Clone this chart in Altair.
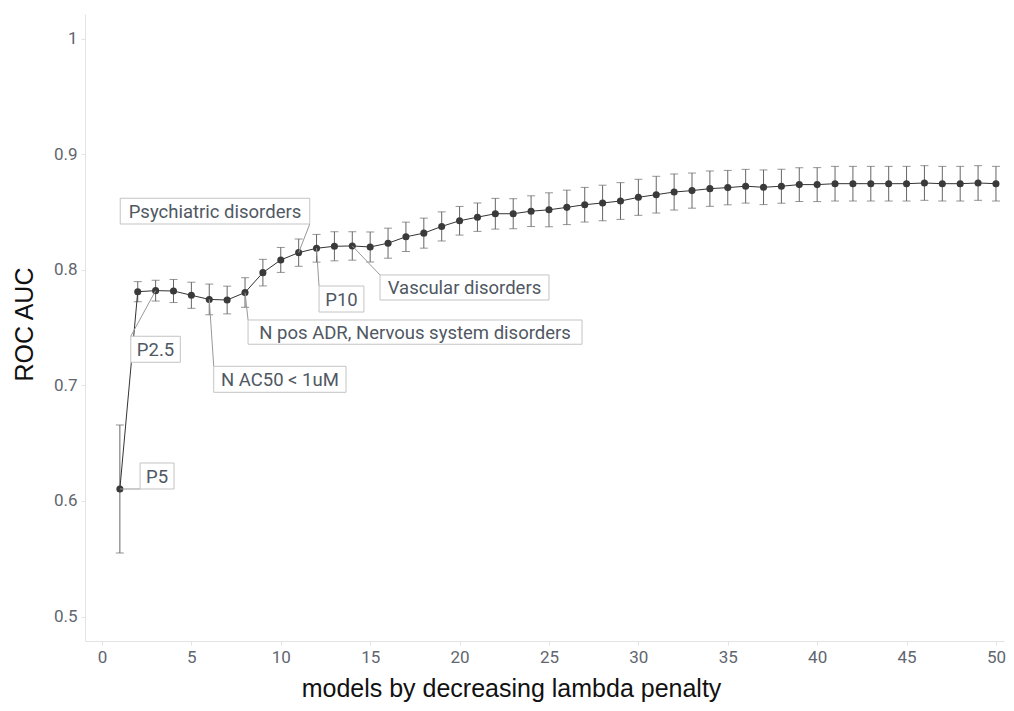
import altair as alt
import pandas as pd

# ---- data ----
model = list(range(1, 51))
auc = [0.6104, 0.7812, 0.7821, 0.7818, 0.7781, 0.7745, 0.7740, 0.7805, 0.7977, 0.8087,
       0.8150, 0.8188, 0.8205, 0.8208, 0.8199, 0.8232, 0.8287, 0.8319, 0.8377, 0.8426,
       0.8457, 0.8487, 0.8487, 0.8509, 0.8521, 0.8542, 0.8565, 0.8580, 0.8597, 0.8629,
       0.8652, 0.8675, 0.8687, 0.8704, 0.8713, 0.8725, 0.8716, 0.8725, 0.8739, 0.8739,
       0.8747, 0.8747, 0.8747, 0.8747, 0.8747, 0.8753, 0.8747, 0.8747, 0.8753, 0.8747]
err = [0.0554, 0.0087, 0.0090, 0.0100, 0.0113, 0.0133, 0.0120, 0.0128, 0.0115, 0.0108,
       0.0118, 0.0120, 0.0126, 0.0123, 0.0130, 0.0130, 0.0127, 0.0130, 0.0126, 0.0124,
       0.0123, 0.0133, 0.0130, 0.0133, 0.0147, 0.0149, 0.0150, 0.0154, 0.0159, 0.0156,
       0.0159, 0.0156, 0.0152, 0.0153, 0.0149, 0.0146, 0.0150, 0.0147, 0.0146, 0.0147,
       0.0150, 0.0150, 0.0150, 0.0150, 0.0150, 0.0150, 0.0150, 0.0150, 0.0150, 0.0150]

x_ticks = [0, 5, 10, 15, 20, 25, 30, 35, 40, 45, 50]
y_ticks = [0.5, 0.6, 0.7, 0.8, 0.9, 1.0]

# annotations: label, model index it points at, box extents (data units), leader corner
ann_text = ["P5", "P2.5", "N AC50 < 1uM", "N pos ADR, Nervous system disorders",
            "P10", "Vascular disorders", "Psychiatric disorders"]
ann_model = [1, 3, 6, 8, 12, 14, 11]
ann_left = [2.13, 1.61, 6.25, 8.17, 12.14, 15.55, 1.02]
ann_right = [4.03, 4.38, 13.65, 26.85, 14.65, 25.00, 11.62]
ann_top = [0.6329, 0.7426, 0.7166, 0.7567, 0.7861, 0.7957, 0.8621]
ann_bottom = [0.6104, 0.7201, 0.6941, 0.7357, 0.7636, 0.7740, 0.8398]
ann_corner = ["bl", "tl", "tl", "tl", "tl", "tl", "br"]

# ---- tables ----
df = pd.DataFrame({"model": model, "auc": auc, "err": err})
df["lo"] = df["auc"] - df["err"]
df["hi"] = df["auc"] + df["err"]
caps = pd.concat([
    pd.DataFrame({"model": model, "v": df["lo"]}),
    pd.DataFrame({"model": model, "v": df["hi"]}),
])

rows = []
for t, m, l, r, tp, bt, c in zip(ann_text, ann_model, ann_left, ann_right, ann_top, ann_bottom, ann_corner):
    lx = l if c[1] == "l" else r
    ly = tp if c[0] == "t" else bt
    rows.append({"text": t, "px": m, "py": auc[m - 1], "lx": lx, "ly": ly,
                 "x0": l, "x1": r, "y0": bt, "y1": tp,
                 "cx": (l + r) / 2, "cy": (tp + bt) / 2})
ann = pd.DataFrame(rows)

XD = [-0.95, 50.45]
YD = [0.4788, 1.0216]
xs = alt.Scale(domain=XD, nice=False, zero=False)
ys = alt.Scale(domain=YD, nice=False, zero=False)

x_axis = alt.Axis(values=x_ticks, title="models by decreasing lambda penalty", grid=False,
                  domainColor="#e3e3e3", tickColor="#e3e3e3", tickSize=4,
                  labelFont="Roboto", labelFontSize=17, labelColor="#5f6670", labelPadding=4,
                  titleFont="Liberation Sans", titleFontSize=25, titleFontWeight="normal",
                  titleColor="#111111", titleX=426, titleY=55, titleBaseline="alphabetic",
                  titleAnchor="middle")
y_axis = alt.Axis(values=y_ticks, format="~g", title="ROC AUC", grid=False,
                  domainColor="#e3e3e3", tickColor="#e3e3e3", tickSize=4,
                  labelFont="Roboto", labelFontSize=17, labelColor="#5f6670", labelPadding=4,
                  titleFont="Liberation Sans", titleFontSize=25, titleFontWeight="normal",
                  titleColor="#111111", titleX=-53, titleY=310, titleBaseline="alphabetic",
                  titleAngle=270, titleAlign="center")

base = alt.Chart(df)

bars = base.mark_rule(color="#666666", strokeWidth=1).encode(
    x=alt.X("model:Q", scale=xs, axis=x_axis),
    y=alt.Y("lo:Q", scale=ys, axis=y_axis),
    y2="hi:Q",
)
cap_marks = alt.Chart(caps).mark_tick(color="#666666", orient="horizontal", size=8, thickness=1).encode(
    x=alt.X("model:Q", scale=xs),
    y=alt.Y("v:Q", scale=ys),
)
line = base.mark_line(color="#333333", strokeWidth=1).encode(
    x=alt.X("model:Q", scale=xs),
    y=alt.Y("auc:Q", scale=ys),
)
pts = base.mark_circle(color="#3a3a3a", size=50, opacity=1).encode(
    x=alt.X("model:Q", scale=xs),
    y=alt.Y("auc:Q", scale=ys),
)

ab = alt.Chart(ann)
leaders = ab.mark_rule(color="#999999", strokeWidth=1).encode(
    x=alt.X("px:Q", scale=xs), x2="lx:Q",
    y=alt.Y("py:Q", scale=ys), y2="ly:Q",
)
boxes = ab.mark_rect(fill="white", stroke="#c4c4c4", strokeWidth=1).encode(
    x=alt.X("x0:Q", scale=xs), x2="x1:Q",
    y=alt.Y("y0:Q", scale=ys), y2="y1:Q",
)
labels = ab.mark_text(font="Roboto", fontSize=18.5, color="#4f5863", align="center",
                      baseline="middle", dy=1).encode(
    x=alt.X("cx:Q", scale=xs),
    y=alt.Y("cy:Q", scale=ys),
    text="text:N",
)

chart = alt.layer(bars, cap_marks, line, pts, leaders, boxes, labels).properties(
    width=919, height=627,
    autosize=alt.AutoSizeParams(type="none"),
    padding={"left": 77, "top": 6, "right": 2, "bottom": 61},
    background="white",
).configure_view(stroke="transparent")

chart.save("out.html", embed_options={"renderer": "svg", "actions": False})
